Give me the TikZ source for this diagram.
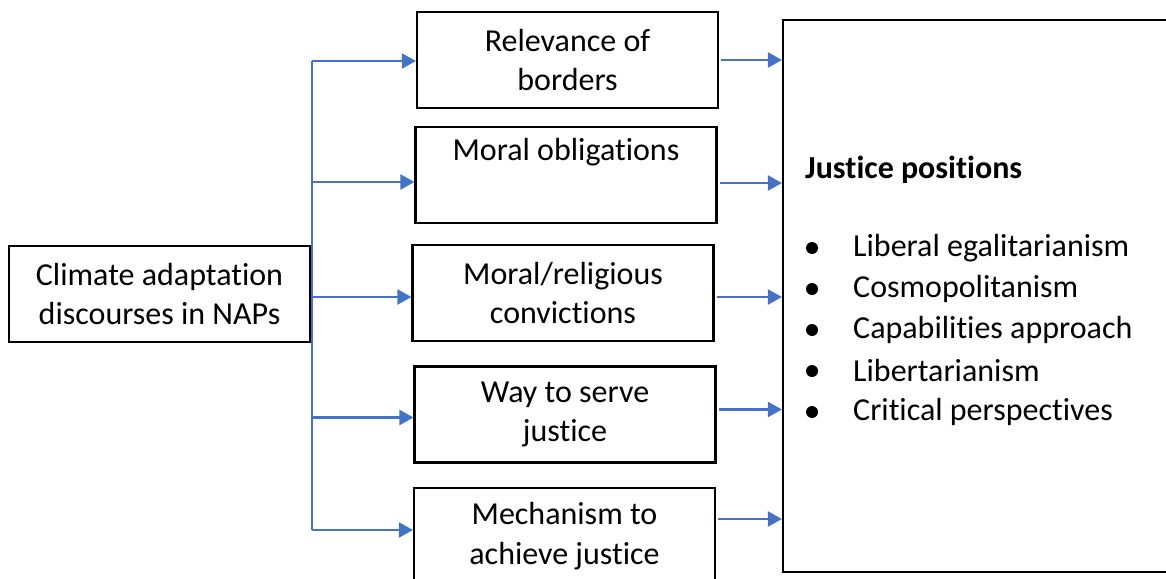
\documentclass[tikz,border=0pt]{standalone}
\usepackage{fontspec}
\setmainfont[Ligatures=NoCommon]{Carlito}
\usetikzlibrary{arrows.meta}
\definecolor{arrowblue}{HTML}{4472C4}
\tikzset{
  box/.style={draw=black, line width=2.2pt, minimum width=301pt, minimum height=96pt, inner sep=0pt, align=center, font=\fontsize{32}{39.5}\selectfont},
  blueline/.style={draw=arrowblue, line width=2.2pt},
  arr/.style={blueline, -{Triangle[length=14pt,width=15pt]}},
  listtext/.style={anchor=west, inner sep=0pt, font=\fontsize{32}{39.5}\selectfont},
  bulletdot/.style={circle, fill=black, minimum size=12pt, inner sep=0pt},
}
\begin{document}
\begin{tikzpicture}[x=1pt,y=-1pt]
\useasboundingbox (0,0) rectangle (1166,578);
\fill[white] (0,0) rectangle (1166,578);
% nodes
\node[box] (src) at (159.5,294) {Climate adaptation\\discourses in NAPs};
\node[box] (b1) at (567.5,60) {Relevance of\\borders};
\node[box] (b2) at (566,175) {Moral obligations\\\strut};
\node[box] (b3) at (563,293) {Moral/religious\\convictions};
\node[box] (b4) at (565,414.5) {Way to serve\\justice};
\node[box] (b5) at (564.5,536) {Mechanism to\\achieve justice};
\node[draw=black, line width=2.2pt, minimum width=400pt, minimum height=552pt, inner sep=0pt] (big) at (983,296) {};
% text inside big box
\node[listtext, font=\fontsize{32}{39.5}\selectfont\bfseries] (title) at (805,170) {Justice positions};
\node[bulletdot] (d1) at (812,248) {};
\node[listtext] (t1) at (853,248) {Liberal egalitarianism};
\node[bulletdot] (d2) at (812,289) {};
\node[listtext] (t2) at (853,289) {Cosmopolitanism};
\node[bulletdot] (d3) at (812,330) {};
\node[listtext] (t3) at (853,330) {Capabilities approach};
\node[bulletdot] (d4) at (812,371) {};
\node[listtext] (t4) at (853,371) {Libertarianism};
\node[bulletdot] (d5) at (812,412) {};
\node[listtext] (t5) at (853,412) {Critical perspectives};
% trunk
\coordinate (tr) at (312,0);
\coordinate (b1in) at ([yshift=-1pt]b1.west);
\coordinate (b2in) at ([yshift=-7pt]b2.west);
\coordinate (b3in) at ([yshift=-4pt]b3.west);
\coordinate (b4in) at ([yshift=-3pt]b4.west);
\coordinate (b5in) at ([yshift=6pt]b5.west);
\draw[blueline] (tr |- b1in) -- (tr |- b5in);
\foreach \b in {b1in,b2in,b3in,b4in,b5in}{
  \draw[arr] (tr |- \b) -- (\b);
}
% right arrows
\coordinate (b1out) at ([xshift=2pt]b1.east);
\coordinate (b2out) at ([xshift=2pt,yshift=-8pt]b2.east);
\coordinate (b3out) at ([xshift=2pt,yshift=-4pt]b3.east);
\coordinate (b4out) at ([xshift=2pt,yshift=5pt]b4.east);
\coordinate (b5out) at ([xshift=2pt,yshift=17pt]b5.east);
\foreach \b in {b1out,b2out,b3out,b4out,b5out}{
  \draw[arr] (\b) -- (big.west |- \b);
}
\end{tikzpicture}
\end{document}
